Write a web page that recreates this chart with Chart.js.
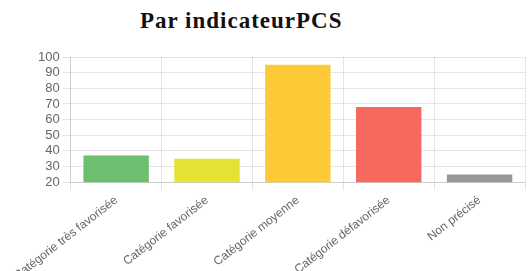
<!DOCTYPE html>
<html><head><meta charset="utf-8">
<script src="https://cdn.jsdelivr.net/npm/chart.js@4.4.0/dist/chart.umd.min.js"></script>
<style>
html,body{margin:0;padding:0;width:531px;height:271px;overflow:hidden;background:#fff;}
#title{position:absolute;left:140px;top:8px;font-family:"Liberation Serif",serif;font-weight:bold;font-size:23px;letter-spacing:1px;color:#111;white-space:nowrap;line-height:26px;}
#wrap{position:absolute;left:0;top:40px;width:531px;height:246px;}
</style></head><body>
<div id="title">Par indicateurPCS</div>
<div id="wrap"><canvas id="c"></canvas></div>
<script>
const categories = ["Catégorie très favorisée","Catégorie favorisée","Catégorie moyenne","Catégorie défavorisée","Non précisé"];
const values = [37, 35, 95, 68, 25];
const colors = ["#6dbe6e","#e2e333","#fdc937","#f7685f","#999999"];
const yMin = 20, yMax = 100, yStep = 10;

new Chart(document.getElementById('c'), {
  type: 'bar',
  data: { labels: categories, datasets: [{ data: values, backgroundColor: colors, borderWidth: 0 }] },
  options: {
    responsive: true, maintainAspectRatio: false, animation: false,
    layout: { padding: { left: 35, right: 6, top: 17, bottom: 0 } },
    plugins: { legend: { display: false }, title: { display: false }, tooltip: { enabled: false } },
    scales: {
      x: {
        grid: { color: 'rgba(0,0,0,0.1)' },
        ticks: { autoSkip: false, color: '#666', font: { family: 'Liberation Sans', size: 12 }, minRotation: 38, maxRotation: 38 }
      },
      y: {
        min: yMin, max: yMax,
        grid: { color: 'rgba(0,0,0,0.1)' },
        ticks: { autoSkip: false, stepSize: yStep, color: '#666', font: { family: 'Liberation Sans', size: 13 } }
      }
    }
  }
});
</script>
</body></html>
